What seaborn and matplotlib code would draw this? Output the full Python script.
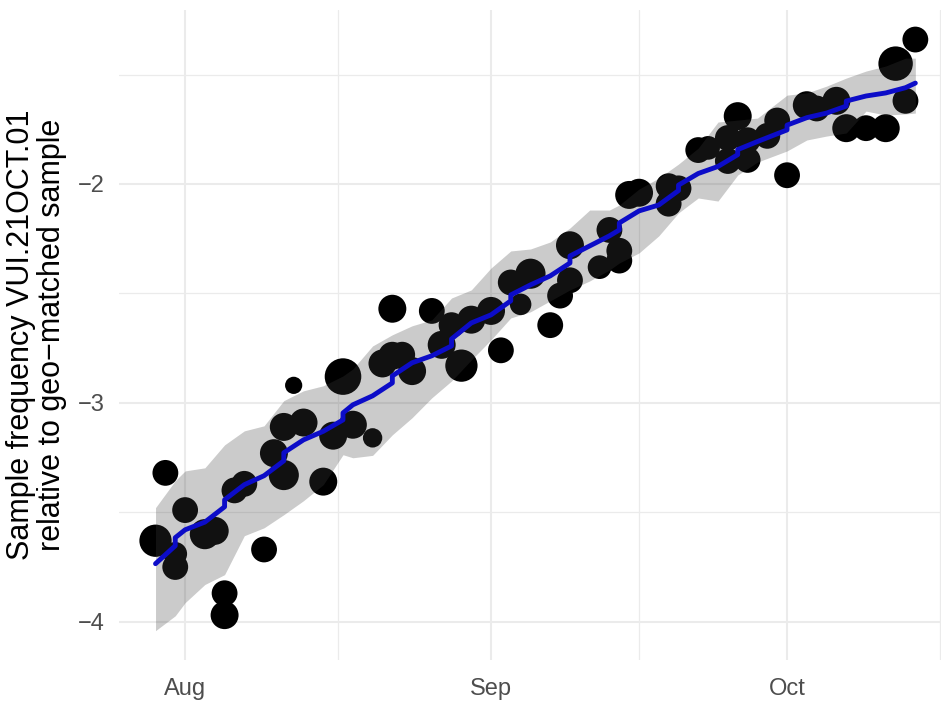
import numpy as np
import pandas as pd
import matplotlib
matplotlib.use("Agg")
import matplotlib.pyplot as plt
import matplotlib.dates as mdates
import seaborn as sns

# Observed log relative frequency per sampling day (days after 1 Aug 2021)
obs_day = [-3, -2, -1, -1, 0, 2, 3, 4, 4, 5, 6, 8, 9, 10, 10, 11, 12, 14, 15, 16,
           17, 19, 20, 21, 21, 22, 23, 25, 26, 27, 28, 29, 31, 32, 33, 34, 35, 37,
           38, 39, 39, 42, 43, 44, 44, 45, 46, 49, 49, 50, 52, 53, 55, 55, 56, 57,
           57, 59, 60, 61, 63, 64, 66, 67, 69, 71, 72, 73, 74]
obs_value = [-3.63, -3.32, -3.69, -3.75, -3.49, -3.60, -3.585, -3.87, -3.97, -3.40,
             -3.37, -3.67, -3.23, -3.33, -3.11, -2.92, -3.09, -3.36, -3.15, -2.88,
             -3.10, -3.16, -2.82, -2.785, -2.57, -2.78, -2.855, -2.58, -2.735, -2.645,
             -2.83, -2.62, -2.58, -2.76, -2.45, -2.55, -2.41, -2.645, -2.51, -2.44,
             -2.28, -2.38, -2.21, -2.35, -2.305, -2.05, -2.04, -2.09, -2.01, -2.02,
             -1.845, -1.835, -1.895, -1.79, -1.69, -1.80, -1.89, -1.78, -1.71, -1.96,
             -1.64, -1.655, -1.62, -1.745, -1.745, -1.745, -1.45, -1.62, -1.34]
# Number of matched sequences behind each point
obs_n = [225, 144, 121, 144, 144, 196, 169, 144, 169, 144, 144, 144, 169, 196, 169,
         64, 169, 169, 169, 289, 169, 81, 169, 169, 169, 144, 169, 144, 169, 144,
         225, 169, 169, 144, 144, 100, 196, 144, 144, 144, 169, 121, 144, 144, 144,
         169, 169, 144, 144, 144, 144, 121, 144, 144, 169, 144, 144, 144, 144, 144,
         169, 144, 169, 169, 144, 169, 256, 144, 144]

# Fitted trend (repeated days mark step changes in the fit)
fit_day = [-3, -1, -1, 0, 2, 4, 4, 6, 8, 10, 10, 12, 14, 16, 16, 17, 19, 21, 21, 23,
           25, 27, 27, 29, 31, 33, 33, 35, 37, 39, 39, 41, 43, 44, 44, 46, 48, 50, 50,
           52, 54, 56, 56, 58, 61, 61, 63, 65, 67, 67, 69, 71, 73, 74]
fit_value = [-3.735, -3.653, -3.616, -3.580, -3.545, -3.475, -3.443, -3.374, -3.333,
             -3.265, -3.228, -3.169, -3.130, -3.078, -3.046, -3.009, -2.968, -2.909,
             -2.877, -2.817, -2.785, -2.740, -2.708, -2.635, -2.598, -2.534, -2.507,
             -2.461, -2.420, -2.361, -2.329, -2.283, -2.237, -2.210, -2.178, -2.123,
             -2.096, -2.030, -2.005, -1.952, -1.920, -1.866, -1.843, -1.806, -1.753,
             -1.731, -1.697, -1.676, -1.644, -1.621, -1.598, -1.584, -1.560, -1.539]

# Confidence band of the fit
band_day = [-3, -1, 0, 2, 4, 6, 8, 10, 12, 14, 16, 17, 19, 21, 23, 25, 27, 29, 31, 33,
            35, 37, 39, 41, 43, 44, 46, 48, 50, 52, 54, 56, 58, 61, 63, 65, 67, 69,
            71, 73, 74]
band_low = [-4.041, -3.973, -3.913, -3.830, -3.785, -3.607, -3.571, -3.511, -3.447,
            -3.374, -3.237, -3.251, -3.240, -3.146, -3.068, -2.977, -2.900, -2.804,
            -2.712, -2.612, -2.584, -2.534, -2.484, -2.443, -2.393, -2.361, -2.315,
            -2.237, -2.132, -2.064, -2.078, -1.959, -1.900, -1.849, -1.799, -1.781,
            -1.767, -1.667, -1.685, -1.680, -1.676]
band_high = [-3.479, -3.356, -3.311, -3.297, -3.192, -3.128, -3.105, -2.990, -2.945,
             -2.922, -2.877, -2.845, -2.740, -2.689, -2.648, -2.621, -2.521, -2.484,
             -2.384, -2.306, -2.297, -2.265, -2.201, -2.119, -2.119, -2.096, -2.023,
             -1.973, -1.909, -1.836, -1.717, -1.708, -1.699, -1.594, -1.584, -1.553,
             -1.516, -1.484, -1.461, -1.425, -1.425]

month_ticks = ["2021-08-01", "2021-09-01", "2021-10-01"]
month_labels = ["Aug", "Sep", "Oct"]
y_ticks = [-4, -3, -2]

start = pd.Timestamp("2021-08-01")
to_date = lambda d: start + pd.to_timedelta(d, unit="D")

points = pd.DataFrame({"date": to_date(obs_day), "value": obs_value, "n": obs_n})
trend = pd.DataFrame({"date": to_date(fit_day), "value": fit_value})
band = pd.DataFrame({"date": to_date(band_day), "low": band_low, "high": band_high})

sns.set_theme(style="white")
plt.rcParams["font.family"] = ["Liberation Sans", "DejaVu Sans"]

fig = plt.figure(figsize=(9.43, 7.02), dpi=100)
ax = fig.add_axes([119 / 943, 1 - 660 / 702, (941 - 119) / 943, (660 - 10) / 702])

n_max = max(obs_n)
sns.scatterplot(data=points, x="date", y="value", size="n",
                sizes=(0, 2.4 * n_max), size_norm=(0, n_max),
                color="black", linewidth=0, alpha=1.0, legend=False,
                ax=ax, zorder=2)

ax.fill_between(band["date"], band["low"], band["high"],
                color="#404040", alpha=0.27, linewidth=0, zorder=3)

sns.lineplot(data=trend, x="date", y="value", estimator=None, sort=False,
             color="#0c0cc8", linewidth=3.5, ax=ax, zorder=4)

# Axes limits with ggplot-like padding
ax.set_xlim(start - pd.Timedelta(days=6.7), start + pd.Timedelta(days=76.6))
ax.set_ylim(-4.175, -1.205)

major_x = [pd.Timestamp(t) for t in month_ticks]
ax.set_xticks(mdates.date2num(major_x))
ax.set_xticklabels(month_labels)
minor_x = [pd.Timestamp("2021-08-16 12:00"), pd.Timestamp("2021-09-16"),
           pd.Timestamp("2021-10-16 12:00")]
ax.set_xticks(mdates.date2num(minor_x), minor=True)

ax.set_yticks(y_ticks)
ax.set_yticklabels(["\u2212" + str(abs(t)) for t in y_ticks])
ax.set_yticks([-3.5, -2.5, -1.5], minor=True)

ax.grid(True, which="major", color="#EBEBEB", linewidth=1.5)
ax.grid(True, which="minor", color="#EBEBEB", linewidth=0.9)
ax.set_axisbelow(True)
for s in ax.spines.values():
    s.set_visible(False)

ax.tick_params(axis="both", which="both", length=0)
ax.tick_params(axis="x", labelsize=17, labelcolor="#4D4D4D", pad=13)
ax.tick_params(axis="y", labelsize=17, labelcolor="#4D4D4D", pad=10)

ax.set_xlabel("")
ax.set_ylabel("Sample frequency VUI.21OCT.01\nrelative to geo\u2212matched sample",
              fontsize=22, color="black", linespacing=1.05, labelpad=8)

fig.savefig("out.png", dpi=100, facecolor="white")
